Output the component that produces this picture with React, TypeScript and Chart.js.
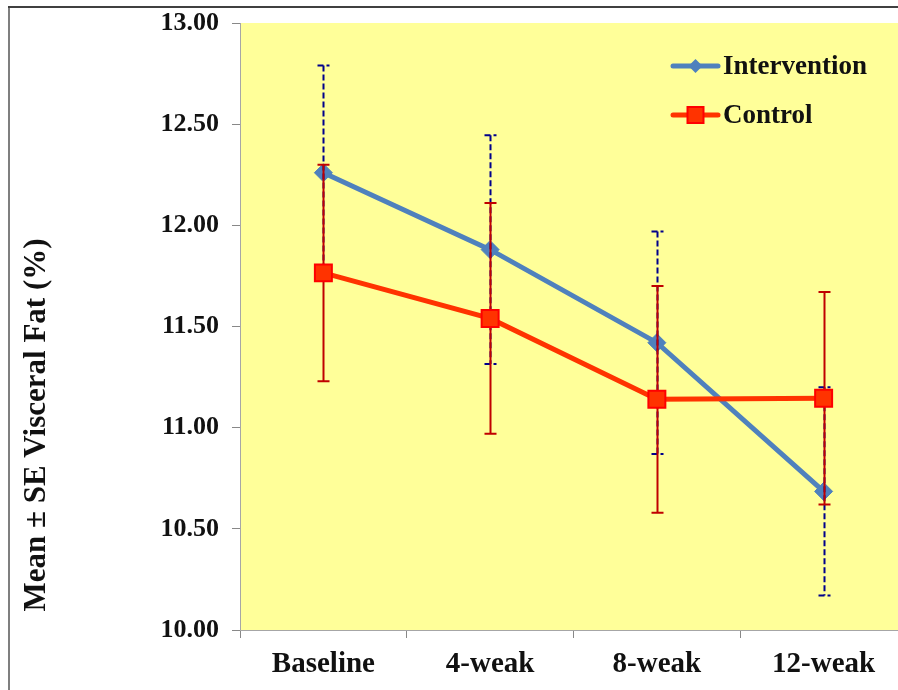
import React, { useEffect, useRef } from 'react';
import { Chart, registerables } from 'chart.js';

Chart.register(...registerables);

const categories = ['Baseline', '4-weak', '8-weak', '12-weak'];
const interventionMean = [12.26, 11.88, 11.42, 10.685];
const interventionSE = [0.53, 0.565, 0.55, 0.515];
const controlMean = [11.765, 11.54, 11.14, 11.145];
const controlSE = [0.535, 0.57, 0.56, 0.525];
const yMin = 10;
const yMax = 13;
const yStep = 0.5;
const yTitle = 'Mean \u00b1 SE Visceral Fat (%)';

const FONT = '"Liberation Serif", "Times New Roman", serif';

const errorBarPlugin = {
  id: 'errorBars',
  beforeDatasetDraw(chart: any, args: any) {
    const ds = chart.data.datasets[args.index];
    if (ds.errStyle === 'solid') drawErrors(chart, args.index);
  },
  afterDatasetDraw(chart: any, args: any) {
    const ds = chart.data.datasets[args.index];
    if (ds.errStyle === 'dashed') drawErrors(chart, args.index);
  },
};

function drawErrors(chart: any, index: number) {
  const ds = chart.data.datasets[index];
  const meta = chart.getDatasetMeta(index);
  const yScale = chart.scales.y;
  const ctx = chart.ctx;
  ctx.save();
  ctx.strokeStyle = ds.errColor;
  ctx.lineWidth = 2;
  if (ds.errStyle === 'dashed') ctx.setLineDash([6, 3]);
  else ctx.setLineDash([]);
  meta.data.forEach((pt: any, i: number) => {
    const m = ds.data[i];
    const e = ds.errors[i];
    const x = Math.round(pt.x) + 0.5;
    const yTop = yScale.getPixelForValue(m + e);
    const yBot = yScale.getPixelForValue(m - e);
    ctx.beginPath();
    ctx.moveTo(x, yTop);
    ctx.lineTo(x, yBot);
    ctx.stroke();
    const cap = 6;
    ctx.beginPath();
    ctx.moveTo(x - cap, yTop);
    ctx.lineTo(x + cap, yTop);
    ctx.moveTo(x - cap, yBot);
    ctx.lineTo(x + cap, yBot);
    ctx.stroke();
  });
  ctx.restore();
}

const decorPlugin = {
  id: 'decor',
  beforeDraw(chart: any) {
    const { ctx, chartArea } = chart;
    ctx.save();
    ctx.fillStyle = '#ffffff';
    ctx.fillRect(0, 0, chart.width, chart.height);
    ctx.fillStyle = '#FFFF99';
    ctx.fillRect(chartArea.left, chartArea.top, chartArea.right - chartArea.left, chartArea.bottom - chartArea.top);
    ctx.fillStyle = '#7f7f7f';
    ctx.fillRect(8, 6, 2, chart.height);
    ctx.fillStyle = '#404040';
    ctx.fillRect(8, 6, chart.width, 2);
    ctx.restore();
  },
  afterDraw(chart: any) {
    const { ctx } = chart;
    ctx.save();
    ctx.translate(37, 425);
    ctx.rotate(-Math.PI / 2);
    ctx.fillStyle = '#111111';
    ctx.font = `bold 31px ${FONT}`;
    ctx.textAlign = 'center';
    ctx.textBaseline = 'middle';
    ctx.fillText(yTitle, 0, 0);
    ctx.restore();

    ctx.save();
    const items = chart.data.datasets;
    const lx0 = 673;
    const lx1 = 718;
    const ys = [66, 115];
    items.forEach((ds: any, i: number) => {
      const y = ys[i];
      ctx.strokeStyle = ds.borderColor;
      ctx.lineWidth = 5;
      ctx.lineCap = 'round';
      ctx.beginPath();
      ctx.moveTo(lx0, y);
      ctx.lineTo(lx1, y);
      ctx.stroke();
      const cx = (lx0 + lx1) / 2;
      ctx.fillStyle = ds.pointBackgroundColor;
      ctx.strokeStyle = ds.pointBorderColor;
      if (ds.pointStyle === 'rectRot') {
        const r = 7;
        ctx.beginPath();
        ctx.moveTo(cx, y - r);
        ctx.lineTo(cx + r, y);
        ctx.lineTo(cx, y + r);
        ctx.lineTo(cx - r, y);
        ctx.closePath();
        ctx.fill();
      } else {
        const s = 8;
        ctx.lineWidth = 2;
        ctx.fillRect(cx - s, y - s, 2 * s, 2 * s);
        ctx.strokeRect(cx - s, y - s, 2 * s, 2 * s);
      }
      ctx.fillStyle = '#111111';
      ctx.font = `bold 27px ${FONT}`;
      ctx.textAlign = 'left';
      ctx.textBaseline = 'middle';
      ctx.fillText(ds.label, lx1 + 5, y + 1);
    });
    ctx.restore();
  },
};

export default function App() {
  const ref = useRef<HTMLCanvasElement | null>(null);
  useEffect(() => {
    if (!ref.current) return;
    const chart = new Chart(ref.current, {
      type: 'line',
      data: {
        labels: categories,
        datasets: [
          {
            label: 'Intervention',
            data: interventionMean,
            errors: interventionSE,
            errStyle: 'dashed',
            errColor: '#00008B',
            borderColor: '#4F81BD',
            backgroundColor: '#4F81BD',
            borderWidth: 5,
            pointStyle: 'rectRot',
            pointRadius: 9,
            pointHoverRadius: 9,
            pointBackgroundColor: '#4F81BD',
            pointBorderColor: '#4F81BD',
            pointBorderWidth: 1,
            tension: 0,
            order: 1,
          } as any,
          {
            label: 'Control',
            data: controlMean,
            errors: controlSE,
            errStyle: 'solid',
            errColor: '#C00000',
            borderColor: '#FF3300',
            backgroundColor: '#FF3300',
            borderWidth: 5,
            pointStyle: 'rect',
            pointRadius: 12,
            pointHoverRadius: 12,
            pointBackgroundColor: '#FF3300',
            pointBorderColor: '#FF0000',
            pointBorderWidth: 2,
            tension: 0,
            order: 0,
          } as any,
        ],
      },
      options: {
        animation: false,
        responsive: false,
        maintainAspectRatio: false,
        devicePixelRatio: 1,
        layout: { autoPadding: false, padding: { left: 0, top: 23, right: 3, bottom: 0 } },
        plugins: {
          legend: { display: false },
          tooltip: { enabled: false },
        },
        scales: {
          x: {
            type: 'category',
            offset: true,
            grid: { offset: true, drawOnChartArea: false, tickLength: 8, color: '#888888' },
            border: { color: '#a6a6a6', width: 1 },
            ticks: { color: '#111111', font: { family: FONT, size: 29, weight: 'bold' }, padding: 9 },
            afterFit: (s: any) => { s.height = 60; s.paddingLeft = 0; s.paddingRight = 0; },
          },
          y: {
            min: yMin,
            max: yMax,
            grid: { drawOnChartArea: false, tickLength: 8, color: '#888888' },
            border: { color: '#a6a6a6', width: 1 },
            ticks: {
              stepSize: yStep,
              color: '#111111',
              font: { family: FONT, size: 26, weight: 'bold' },
              padding: 13,
              callback: (v: any) => Number(v).toFixed(2),
            },
            afterFit: (s: any) => { s.width = 240; s.paddingTop = 0; s.paddingBottom = 0; },
          },
        },
      } as any,
      plugins: [decorPlugin, errorBarPlugin],
    });
    return () => chart.destroy();
  }, []);
  return (
    <div style={{ position: 'fixed', left: 0, top: 0, width: 898, height: 690, overflow: 'hidden', background: '#fff' }}>
      <div style={{ width: 910, height: 690, position: 'relative' }}>
        <canvas ref={ref} width={910} height={690} style={{ width: 910, height: 690, display: 'block' }} />
      </div>
    </div>
  );
}
